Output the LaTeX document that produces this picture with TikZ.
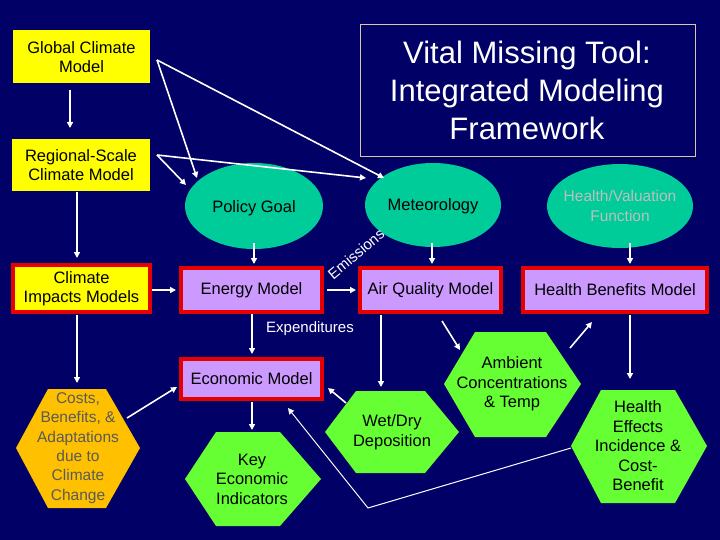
\documentclass[tikz,border=0pt]{standalone}
\usepackage{fontspec}
\setmainfont{Liberation Sans}
\usetikzlibrary{arrows.meta}
\definecolor{bg}{RGB}{0,0,102}
\definecolor{ylw}{RGB}{255,255,0}
\definecolor{lav}{RGB}{204,153,255}
\definecolor{teal}{RGB}{0,204,153}
\definecolor{grn}{RGB}{102,255,51}
\definecolor{org}{RGB}{255,192,0}
\definecolor{redb}{RGB}{230,0,0}
\begin{document}
\begin{tikzpicture}[x=1pt,y=-1pt,
  txt/.style={font=\fontsize{16.5}{19.5}\selectfont,align=center},
  ybox/.style={fill=ylw,draw=none},
  rbox/.style={draw=redb,line width=4pt},
  ell/.style={fill=teal,draw=none},
  arr/.style={draw=white,line width=1.6pt,-{Triangle[length=6pt,width=6pt]}}]
\fill[bg] (0,0) rectangle (720,540);
\useasboundingbox (0,0) rectangle (720,540);
% title
\draw[draw={rgb,255:red,220;green,200;blue,160},line width=0.8pt] (360,24) rectangle (695,156);
\node[txt,text=white,font=\fontsize{31}{38}\selectfont] (title) at (527,90) {Vital Missing Tool:\\Integrated Modeling\\Framework};
% yellow boxes
\fill[ybox] (13,30) rectangle (150,83);
\node[txt] (gcm) at (81.5,57) {Global Climate\\Model};
\fill[ybox] (12,139) rectangle (150,191);
\node[txt] (rcm) at (81,165) {Regional-Scale\\Climate Model};
\filldraw[fill=ylw,rbox] (13,265) rectangle (150,312);
\node[txt] (cim) at (81.5,288.5) {Climate\\Impacts Models};
% lavender boxes
\filldraw[fill=lav,rbox] (181,268) rectangle (322,312);
\node[txt] (em) at (251.5,290) {Energy Model};
\filldraw[fill=lav,rbox] (360,268) rectangle (501,312);
\node[txt] (aqm) at (430.5,290) {Air Quality Model};
\filldraw[fill=lav,rbox] (523,268) rectangle (707,312);
\node[txt] (hbm) at (615,290) {Health Benefits Model};
\filldraw[fill=lav,rbox] (181,359) rectangle (322,399);
\node[txt] (ecm) at (251.5,379) {Economic Model};
% ellipses
\fill[ell] (254,206) ellipse [x radius=69,y radius=43];
\node[txt] (pg) at (254,208) {Policy Goal};
\fill[ell] (433,205) ellipse [x radius=68,y radius=42];
\node[txt] (met) at (433,206) {Meteorology};
\fill[ell] (620,206) ellipse [x radius=73,y radius=42];
\node[txt,text={rgb,255:red,190;green,190;blue,190},font=\fontsize{15.5}{20}\selectfont] (hvf) at (620,206) {Health/Valuation\\Function};
% hexagons
\fill[org] (48,389)--(106,389)--(140,448)--(106,508)--(48,508)--(16,448)--cycle;
\node[txt,text={rgb,255:red,90;green,90;blue,90},font=\fontsize{15.5}{19.3}\selectfont] (cba) at (78,448) {Costs,\\Benefits, \&\\Adaptations\\due to\\Climate\\Change};
\fill[grn] (216,432)--(280,432)--(321,479)--(280,526)--(216,526)--(185,479)--cycle;
\node[txt] (kei) at (252,479) {Key\\Economic\\Indicators};
\fill[grn] (356,391)--(425,391)--(459,432)--(425,473)--(356,473)--(325,432)--cycle;
\node[txt] (wdd) at (392,432) {Wet/Dry\\Deposition};
\fill[grn] (475,332)--(546,332)--(581,384)--(546,437)--(475,437)--(444,384)--cycle;
\node[txt] (act) at (512,384) {Ambient\\Concentrations\\\& Temp};
\fill[grn] (601,390)--(675,390)--(707,446)--(675,503)--(601,503)--(571,446)--cycle;
\node[txt] (hei) at (638,446) {Health\\Effects\\Incidence \&\\Cost-\\Benefit};
% labels
\node[txt,text=white,rotate=40,font=\fontsize{15}{18}\selectfont] (emis) at (356,254) {Emissions};
\node[txt,text=white,font=\fontsize{15}{18}\selectfont] (exp) at (310,329) {Expenditures};
% coordinates
\coordinate (g1) at (157,60);
\coordinate (r1) at (157,155);
\coordinate (h1) at (571,448);
\coordinate (h2) at (368,508);
% arrows
\draw[arr] (70,90) -- (70,128);
\draw[arr] (77,192) -- (77,258);
\draw[arr] (77,315) -- (77,383);
\draw[arr] (152,290) -- (176,290);
\draw[arr] (327,290) -- (356,290);
\draw[arr] (254,243) -- (254,264);
\draw[arr] (432,243) -- (432,264);
\draw[arr] (630,243) -- (630,264);
\draw[arr] (g1) -- (197,178);
\draw[arr] (g1) -- (384,178);
\draw[arr] (r1) -- (186,185);
\draw[arr] (r1) -- (366,178);
\draw[arr] (252,314) -- (252,354);
\draw[arr] (381,315) -- (381,387);
\draw[arr] (346,403) -- (328,388);
\draw[arr] (442,321) -- (460,350);
\draw[arr] (570,348) -- (592,322);
\draw[arr] (630,315) -- (630,379);
\draw[arr] (252,402) -- (252,430);
\draw[arr] (127,418) -- (177,387);
\draw[arr,line width=1pt] (h1) -- (h2) -- (288,408);
\end{tikzpicture}
\end{document}
